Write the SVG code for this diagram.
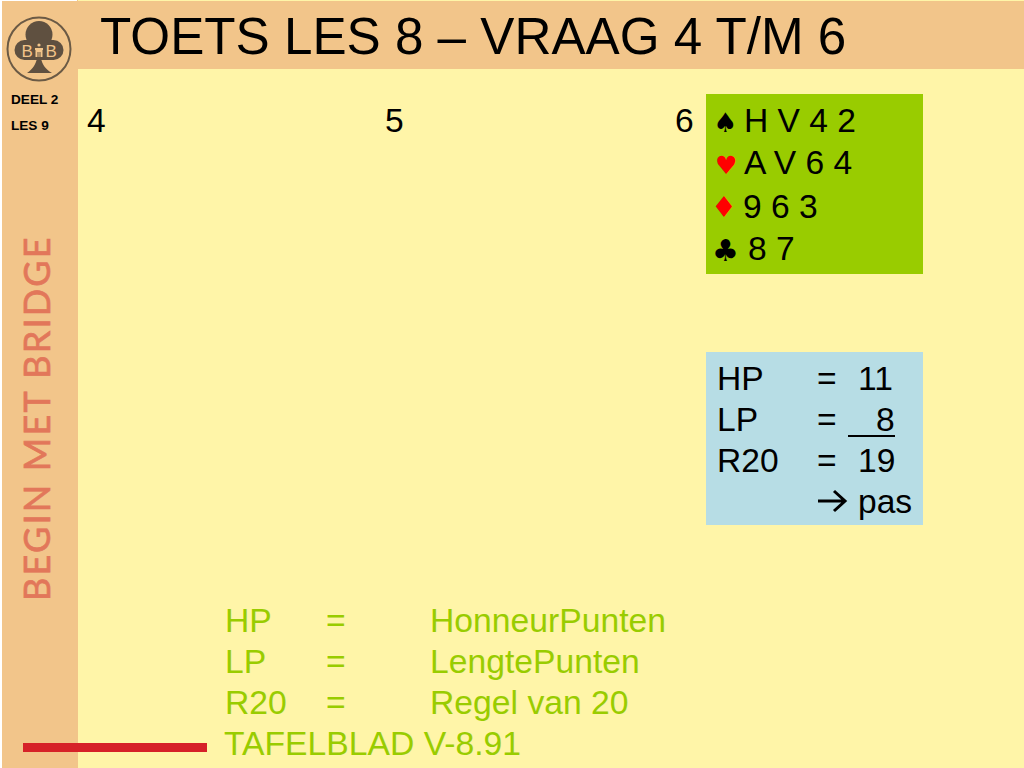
<svg xmlns="http://www.w3.org/2000/svg" width="1024" height="768" viewBox="0 0 1024 768">
<style>
.t{font-family:"Liberation Sans",Arial,sans-serif;fill:#000}
.b{font-size:33.6px}
.g{font-size:33.7px;fill:#99cc00}
.s{font-family:"DejaVu Sans",sans-serif}
.d{font-size:13.6px;font-weight:bold}
</style>
<rect width="1024" height="768" fill="#fff5a8"/>
<rect x="2" y="0" width="76" height="768" fill="#f2c58a"/>
<rect x="0" y="1" width="1024" height="68" fill="#f2c58a" />
<rect x="0" y="0" width="2" height="768" fill="#fff"/>
<rect x="0" y="0" width="77" height="1" fill="#fff"/>
<g id="logo">
<circle cx="39" cy="49" r="31.5" fill="none" stroke="#6b5a45" stroke-width="2"/>
<circle cx="39" cy="34.5" r="13.5" fill="#5f5040"/>
<circle cx="24.5" cy="50" r="10" fill="#5f5040"/>
<circle cx="53.5" cy="50" r="10" fill="#5f5040"/>
<rect x="24" y="40" width="30" height="20" fill="#5f5040"/>
<path d="M37 58 C36 64 33 69 27 73 H52 C45 69 42 64 41 58Z" fill="#5f5040"/>
<text x="21.5" y="57" font-family="Liberation Sans,sans-serif" font-size="17" fill="#f2c58a">B</text>
<text x="45.5" y="57" font-family="Liberation Sans,sans-serif" font-size="17" fill="#f2c58a">B</text>
<circle cx="39" cy="45" r="1.6" fill="#f2c58a"/>
<path d="M35 48h8v2h-.5v7h-2v-5h-1v5h-1v-5h-1v5h-2v-7h-.5z" fill="#f2c58a"/>
</g>
<g id="side">
<text class="t d" x="11" y="104">DEEL 2</text>
<text class="t d" x="11" y="130">LES 9</text>
<text transform="translate(50,601) rotate(-90)" font-family="Lato,sans-serif" font-size="36" letter-spacing="2.2" fill="#e2775a" stroke="#e2775a" stroke-width="0.7">BEGIN MET BRIDGE</text>
<rect x="23" y="743" width="184" height="9" fill="#d62128"/>
</g>
<g id="title"><text class="t" x="100" y="54" font-size="51.2">TOETS LES 8 – VRAAG 4 T/M 6</text></g>
<g id="numbers">
<text class="t b" x="87" y="132">4</text>
<text class="t b" x="385" y="132">5</text>
<text class="t b" x="675" y="132">6</text>
</g>
<g id="hand">
<rect x="706" y="94" width="217" height="180" fill="#99cc00"/>
<text class="s" x="713" y="132" font-size="27">♠</text>
<text class="t b" x="744" y="132">H V 4 2</text>
<text class="s" x="715" y="174" font-size="25" fill="#ff0000">♥</text>
<text class="t b" x="744" y="174">A V 6 4</text>
<text class="s" x="711" y="217" font-size="29" fill="#ff0000">♦</text>
<text class="t b" x="743" y="218">9 6 3</text>
<text class="s" x="712" y="261" font-size="30">♣</text>
<text class="t b" x="748" y="260">8 7</text>
</g>
<g id="points">
<rect x="706" y="352" width="217" height="173" fill="#b7dde5"/>
<text class="t b" x="717" y="390">HP</text><text class="t b" x="817" y="390">=</text><text class="t b" x="858" y="390">11</text>
<text class="t b" x="717" y="431">LP</text><text class="t b" x="817" y="431">=</text><text class="t b" x="876" y="431">8</text>
<rect x="848" y="435" width="47" height="2" fill="#000"/>
<text class="t b" x="717" y="472">R20</text><text class="t b" x="817" y="472">=</text><text class="t b" x="858" y="472">19</text>
<path d="M818 501H844M834 491L845 501L834 511" fill="none" stroke="#000" stroke-width="3"/>
<text class="t b" x="858" y="513">pas</text>
</g>
<g id="legend">
<text class="t g" x="225" y="632">HP</text><text class="t g" x="326" y="632">=</text><text class="t g" x="430" y="632">HonneurPunten</text>
<text class="t g" x="225" y="673">LP</text><text class="t g" x="326" y="673">=</text><text class="t g" x="430" y="673">LengtePunten</text>
<text class="t g" x="225" y="714">R20</text><text class="t g" x="326" y="714">=</text><text class="t g" x="430" y="714">Regel van 20</text>
<text class="t g" x="224" y="755">TAFELBLAD V-8.91</text>
</g>
</svg>
